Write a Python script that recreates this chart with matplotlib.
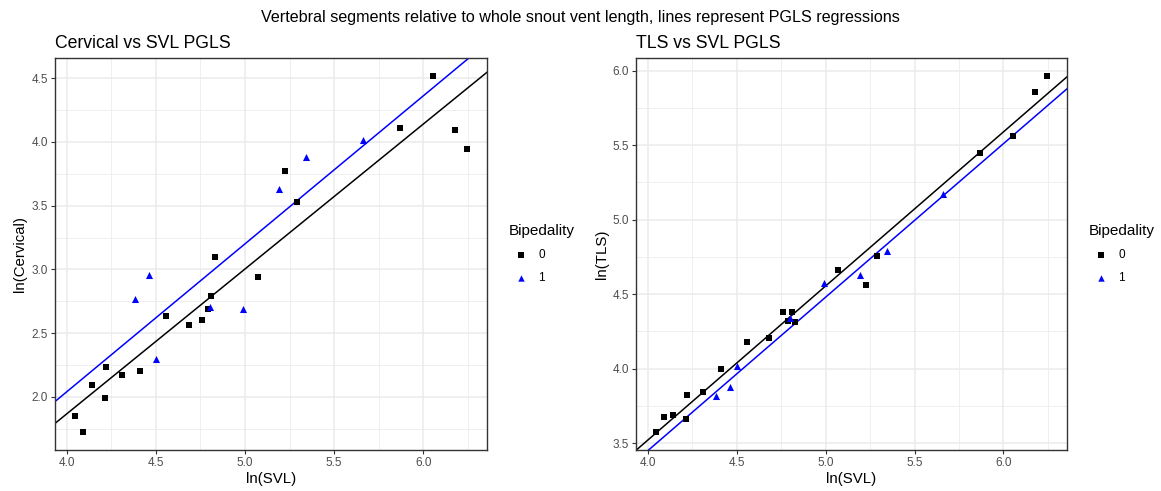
import matplotlib
matplotlib.use("Agg")
import matplotlib.pyplot as plt
import numpy as np
from matplotlib.ticker import MultipleLocator

plt.rcParams['font.family'] = ['Liberation Sans', 'DejaVu Sans']

# ln(SVL) per species, bipedality 0 and 1
svl_0 = [4.045, 4.092, 4.141, 4.213, 4.220, 4.310, 4.414, 4.556, 4.684, 4.760,
         4.790, 4.810, 4.830, 5.071, 5.225, 5.291, 5.868, 6.054, 6.178, 6.247]
svl_1 = [4.384, 4.460, 4.503, 4.802, 4.990, 5.191, 5.345, 5.660]

cerv_0 = [1.853, 1.724, 2.095, 1.995, 2.237, 2.174, 2.205, 2.633, 2.562, 2.607,
          2.689, 2.791, 3.096, 2.941, 3.769, 3.532, 4.108, 4.516, 4.090, 3.943]
cerv_1 = [2.770, 2.954, 2.300, 2.704, 2.686, 3.630, 3.882, 4.011]

tls_0 = [3.574, 3.676, 3.689, 3.662, 3.824, 3.847, 4.000, 4.176, 4.203, 4.378,
         4.322, 4.378, 4.311, 4.662, 4.561, 4.757, 5.446, 5.561, 5.858, 5.964]
tls_1 = [3.815, 3.874, 4.018, 4.342, 4.577, 4.628, 4.791, 5.169]

# PGLS lines (intercept, slope)
cerv_fit = {'0': (-2.677, 1.136), '1': (-2.600, 1.160)}
tls_fit = {'0': (-0.615, 1.034), '1': (-0.670, 1.030)}

panels = [
    ("Cervical vs SVL PGLS", "ln(Cervical)", cerv_0, cerv_1, cerv_fit),
    ("TLS vs SVL PGLS", "ln(TLS)", tls_0, tls_1, tls_fit),
]

fig = plt.figure(figsize=(11.61, 4.91), dpi=100)
fig.text(0.5, 0.964, "Vertebral segments relative to whole snout vent length, lines represent PGLS regressions",
         ha='center', va='center', fontsize=11.6)

boxes = [[0.0474, 0.0835, 0.372, 0.798], [0.548, 0.0835, 0.371, 0.798]]
grid_c = '#EBEBEB'

for box, (title, ylab, y0, y1, fit) in zip(boxes, panels):
    ax = fig.add_axes(box)
    ax.scatter(svl_0, y0, marker='s', s=22, c='black', linewidths=0, zorder=3, label='0')
    ax.scatter(svl_1, y1, marker='^', s=26, c='blue', linewidths=0, zorder=3, label='1')
    ax.margins(0.05)
    ax.autoscale(False)
    xs = np.array([3.5, 7.0])
    ax.plot(xs, fit['0'][0] + fit['0'][1] * xs, color='black', lw=1.1, zorder=2)
    ax.plot(xs, fit['1'][0] + fit['1'][1] * xs, color='blue', lw=1.1, zorder=2)

    ax.xaxis.set_major_locator(MultipleLocator(0.5))
    ax.yaxis.set_major_locator(MultipleLocator(0.5))
    ax.xaxis.set_minor_locator(MultipleLocator(0.25))
    ax.yaxis.set_minor_locator(MultipleLocator(0.25))
    ax.grid(which='major', color=grid_c, lw=1.1)
    ax.grid(which='minor', color=grid_c, lw=0.55)
    ax.set_axisbelow(True)
    ax.tick_params(which='minor', length=0)
    ax.tick_params(which='major', length=3, width=0.8, color='#333333',
                   labelsize=8.5, labelcolor='#4D4D4D', pad=2)
    for sp in ax.spines.values():
        sp.set_color('#333333')
        sp.set_linewidth(1.0)
    ax.set_title(title, loc='left', fontsize=12.7, pad=7)
    ax.set_xlabel("ln(SVL)", fontsize=10.8, labelpad=2)
    ax.set_ylabel(ylab, fontsize=10.8, labelpad=3)
    leg = ax.legend(title='Bipedality', loc='center left', bbox_to_anchor=(1.026, 0.5),
                    frameon=False, fontsize=8.5, title_fontsize=11,
                    handletextpad=0.5, labelspacing=0.9, markerscale=0.9)
    leg._legend_box.align = 'left'
    leg._legend_box.sep = 8

fig.savefig("out.png", dpi=100)
